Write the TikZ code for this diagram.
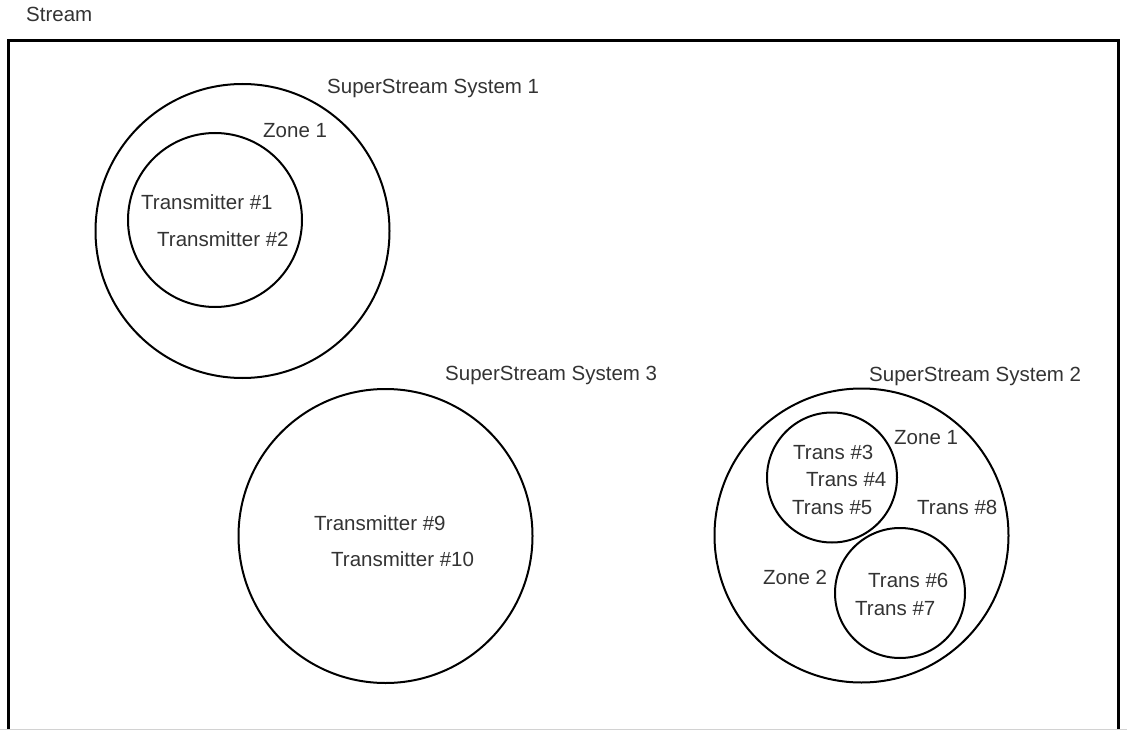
\documentclass[tikz,border=0pt]{standalone}
\usepackage{fontspec}
\setmainfont{Liberation Sans}

\tikzset{
  lbl/.style={anchor=base west, inner sep=0pt, text=black!80,
    font=\fontsize{20.5}{24}\selectfont},
  ring/.style={line width=2pt},
}

\begin{document}
\begin{tikzpicture}[x=1pt,y=-1pt]
  \useasboundingbox (0,0) rectangle (1127,730);

  % Frame
  \draw[line width=3pt] (8,731) -- (8,41) -- (1118,41) -- (1118,731);
  \draw[gray!35, line width=1pt] (0,729.5) -- (1127,729.5);
  \node[lbl] (stream) at (26,22) {Stream};

  % SuperStream System 1
  \draw[ring] (242.5,231) circle (147pt);
  \draw[ring] (215,220) circle (87pt);
  \node[lbl] (sys1) at (327,94) {SuperStream System 1};
  \node[lbl] (sys1zone1) at (263,138) {Zone 1};
  \node[lbl] (tx1) at (141,210) {Transmitter \#1};
  \node[lbl] (tx2) at (157,247) {Transmitter \#2};

  % SuperStream System 3
  \draw[ring] (385.5,536) circle (147pt);
  \node[lbl] (sys3) at (445,380) {SuperStream System 3};
  \node[lbl] (tx9) at (314,530) {Transmitter \#9};
  \node[lbl] (tx10) at (331,566) {Transmitter \#10};

  % SuperStream System 2
  \draw[ring] (861.5,535.5) circle (147pt);
  \draw[ring] (832,477.5) circle (65pt);
  \draw[ring] (900,593) circle (65pt);
  \node[lbl] (sys2) at (869,381) {SuperStream System 2};
  \node[lbl] (sys2zone1) at (894,444) {Zone 1};
  \node[lbl] (sys2zone2) at (763,584) {Zone 2};
  \node[lbl] (tx3) at (793,459) {Trans \#3};
  \node[lbl] (tx4) at (806,486) {Trans \#4};
  \node[lbl] (tx5) at (792,514) {Trans \#5};
  \node[lbl] (tx8) at (917,514) {Trans \#8};
  \node[lbl] (tx6) at (868,587) {Trans \#6};
  \node[lbl] (tx7) at (855,615) {Trans \#7};

\end{tikzpicture}
\end{document}
